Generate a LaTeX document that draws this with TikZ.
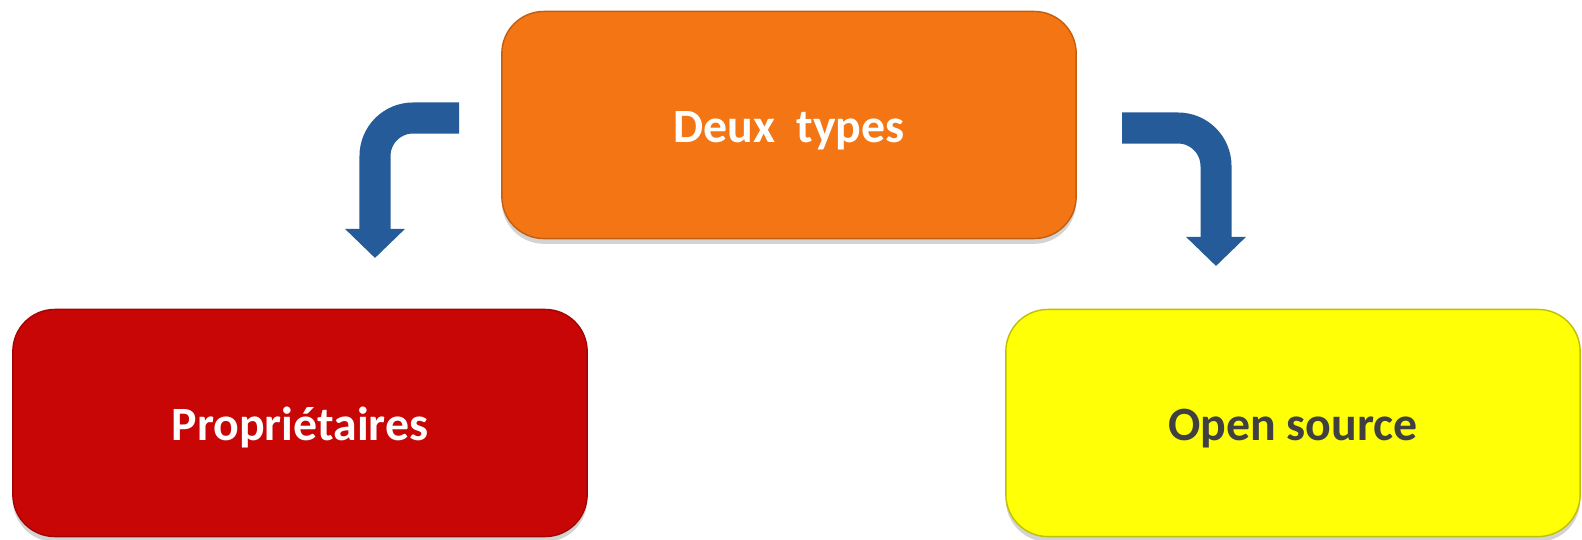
\documentclass[tikz,border=0pt]{standalone}
\usepackage{fontspec}
\setmainfont{Carlito}
\usetikzlibrary{arrows.meta,shadows}

\definecolor{orangebox}{HTML}{F37514}
\definecolor{redbox}{HTML}{C90606}
\definecolor{yellowbox}{HTML}{FFFF05}
\definecolor{bluearrow}{HTML}{265B99}
\definecolor{darktext}{HTML}{404040}

\begin{document}
\begin{tikzpicture}[x=0.01cm,y=-0.01cm,
    typebox/.style={rounded corners=0.42cm, minimum width=5.74cm, minimum height=2.27cm,
      text height=0.34cm, text depth=0pt,
      font=\fontsize{13.6}{16}\selectfont\bfseries,
      drop shadow={shadow xshift=0pt, shadow yshift=-1.5pt, opacity=0.35}},
    bentarrow/.style={draw=bluearrow, line width=0.31cm, rounded corners=0.38cm,
      -{Triangle[width=0.58cm, length=0.29cm]}}]
  \useasboundingbox (0,0) rectangle (1582,539);
  % boxes
  \node[typebox, fill=orangebox, draw=orangebox!80!black, text=white] (deux) at (789,125) {Deux\ \ types};
  \node[typebox, fill=redbox, draw=redbox!80!black, text=white] (prop) at (300,423) {Propriétaires};
  \node[typebox, fill=yellowbox, draw=yellowbox!75!black, text=darktext] (open) at (1293,423) {Open source};
  % arrows
  \coordinate (ls) at (459,118);
  \coordinate (le) at (375,258);
  \coordinate (rs) at (1122,128);
  \coordinate (re) at (1216,266);
  \draw[bentarrow] (ls) -| (le);
  \draw[bentarrow] (rs) -| (re);
\end{tikzpicture}
\end{document}
